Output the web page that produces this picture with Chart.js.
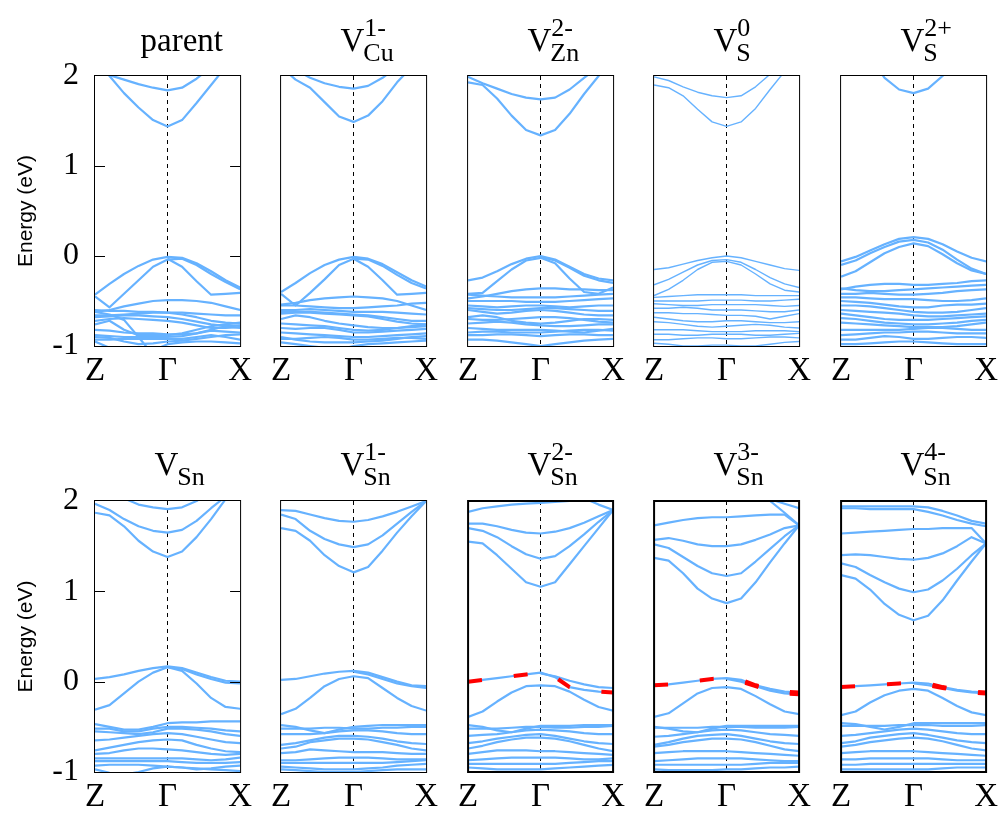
<!DOCTYPE html>
<html><head><meta charset="utf-8">
<script src="https://cdn.jsdelivr.net/npm/chart.js@4.4.1/dist/chart.umd.min.js"></script>
<style>
html,body{margin:0;padding:0;background:#fff}
body{width:1005px;height:814px;overflow:hidden;position:relative}
canvas{position:absolute}
.t{position:absolute;font-family:'Liberation Serif','Times New Roman',serif;line-height:1;white-space:nowrap;color:#000}
</style></head><body>
<script>
// ---------- data ----------
const kPoints = [0,0.1,0.2,0.3,0.4,0.5,0.6,0.7,0.8,0.9,1.0];
const kLabels = ['Z','\u0393','X'];
const eTickLabels = ['-1','0','1','2'];
const _ = null;

const parentBands = [
 [2.05,2.01,1.96,1.91,1.87,1.84,1.87,1.97,2.1,2.25,2.4],
 [2.2,2.0,1.81,1.65,1.51,1.44,1.51,1.7,1.9,2.1,2.3],
 [-0.43,-0.31,-0.2,-0.11,-0.04,-0.01,-0.02,-0.08,-0.17,-0.27,-0.35],
 [-0.45,-0.57,-0.42,-0.27,-0.12,-0.04,-0.03,-0.1,-0.2,-0.29,-0.37],
 [_,_,_,_,_,-0.03,-0.12,-0.28,-0.43,-0.42,-0.41],
 [-0.62,-0.6,-0.56,-0.53,-0.5,-0.49,-0.49,-0.5,-0.52,-0.56,-0.6],
 [-0.6,-0.61,-0.61,-0.62,-0.62,-0.63,-0.63,-0.64,-0.65,-0.66,-0.66],
 [-0.66,-0.66,-0.65,-0.64,-0.63,-0.63,-0.65,-0.68,-0.72,-0.74,-0.75],
 [-0.68,-0.67,-0.66,-0.66,-0.67,-0.68,-0.7,-0.73,-0.76,-0.78,-0.8],
 [-0.72,-0.7,-0.69,-0.7,-0.71,-0.72,-0.74,-0.77,-0.8,-0.8,-0.79],
 [-0.76,-0.72,-0.82,-0.88,-0.88,-0.88,-0.86,-0.82,-0.78,-0.76,-0.74],
 [-0.82,-0.83,-0.85,-0.86,-0.86,-0.87,-0.87,-0.86,-0.82,-0.78,-0.77],
 [-0.88,-0.89,-0.9,-0.9,-0.9,-0.9,-0.89,-0.86,-0.83,-0.84,-0.85],
 [-0.9,-0.91,-0.95,-0.98,-0.97,-0.95,-0.94,-0.92,-0.9,-0.88,-0.87],
 [-0.93,-0.93,-0.92,-0.92,-0.92,-0.92,-0.92,-0.9,-0.88,-0.9,-0.93],
 [-0.95,-1.02,-1.08,-1.1,-1.05,-0.98,-0.96,-0.95,-0.95,-0.96,-0.97],
 [-0.62,-0.65,-0.71,-0.9,-1.1,_,_,_,_,_,_]
];
const vCu1Bands = [
 [2.15,2.07,1.98,1.92,1.88,1.86,1.89,1.98,2.1,2.2,2.3],
 [2.1,1.96,1.87,1.71,1.55,1.49,1.56,1.72,1.93,2.1,2.3],
 [-0.4,-0.3,-0.19,-0.1,-0.04,-0.01,-0.03,-0.09,-0.18,-0.27,-0.34],
 [-0.42,-0.55,-0.41,-0.26,-0.1,-0.03,-0.04,-0.11,-0.21,-0.3,-0.36],
 [_,_,_,_,_,-0.03,-0.12,-0.27,-0.43,-0.42,-0.41],
 [-0.54,-0.52,-0.49,-0.47,-0.46,-0.45,-0.46,-0.47,-0.5,-0.55,-0.6],
 [-0.55,-0.55,-0.56,-0.57,-0.58,-0.58,-0.57,-0.56,-0.55,-0.53,-0.52],
 [-0.6,-0.6,-0.59,-0.6,-0.61,-0.62,-0.62,-0.62,-0.63,-0.64,-0.65],
 [-0.62,-0.62,-0.62,-0.63,-0.64,-0.65,-0.66,-0.68,-0.7,-0.72,-0.72],
 [-0.64,-0.63,-0.63,-0.64,-0.65,-0.66,-0.67,-0.7,-0.73,-0.75,-0.76],
 [-0.7,-0.66,-0.68,-0.72,-0.75,-0.77,-0.79,-0.8,-0.8,-0.79,-0.78],
 [-0.75,-0.76,-0.77,-0.78,-0.8,-0.82,-0.83,-0.82,-0.8,-0.78,-0.76],
 [-0.8,-0.81,-0.8,-0.8,-0.82,-0.85,-0.85,-0.84,-0.83,-0.82,-0.81],
 [-0.85,-0.86,-0.87,-0.88,-0.89,-0.9,-0.9,-0.89,-0.88,-0.87,-0.86],
 [-0.9,-0.93,-0.95,-0.96,-0.96,-0.96,-0.95,-0.94,-0.92,-0.9,-0.89],
 [-0.92,-0.92,-0.91,-0.9,-0.91,-0.93,-0.93,-0.92,-0.91,-0.91,-0.92],
 [-0.96,-0.98,-1.0,-1.02,-1.04,-1.0,-0.98,-0.97,-0.96,-0.95,-0.94]
];
const vZn2Bands = [
 [1.99,1.92,1.86,1.8,1.76,1.74,1.76,1.85,1.98,2.1,2.2],
 [1.93,1.9,1.75,1.56,1.4,1.34,1.4,1.58,1.8,2.0,2.2],
 [-0.27,-0.24,-0.17,-0.09,-0.03,0.0,-0.04,-0.12,-0.2,-0.25,-0.27],
 [_,_,_,_,_,-0.01,-0.05,-0.13,-0.22,-0.27,-0.3],
 [-0.42,-0.41,-0.28,-0.15,-0.05,-0.02,-0.08,-0.25,-0.4,-0.42,-0.35],
 [-0.47,-0.45,-0.42,-0.39,-0.37,-0.36,-0.36,-0.37,-0.37,-0.38,-0.38],
 [-0.43,-0.44,-0.45,-0.46,-0.46,-0.46,-0.46,-0.45,-0.44,-0.43,-0.42],
 [-0.5,-0.5,-0.5,-0.5,-0.51,-0.51,-0.51,-0.5,-0.49,-0.48,-0.47],
 [-0.55,-0.56,-0.57,-0.56,-0.55,-0.55,-0.56,-0.57,-0.56,-0.55,-0.55],
 [-0.58,-0.59,-0.6,-0.6,-0.59,-0.58,-0.58,-0.59,-0.6,-0.61,-0.61],
 [-0.6,-0.62,-0.64,-0.63,-0.61,-0.6,-0.61,-0.63,-0.65,-0.66,-0.66],
 [-0.68,-0.66,-0.68,-0.72,-0.74,-0.75,-0.74,-0.72,-0.7,-0.7,-0.71],
 [-0.7,-0.71,-0.71,-0.7,-0.69,-0.68,-0.68,-0.69,-0.71,-0.73,-0.74],
 [-0.75,-0.74,-0.73,-0.74,-0.76,-0.77,-0.78,-0.78,-0.77,-0.76,-0.76],
 [-0.8,-0.81,-0.82,-0.82,-0.82,-0.82,-0.83,-0.84,-0.85,-0.83,-0.81],
 [-0.85,-0.84,-0.84,-0.85,-0.85,-0.85,-0.84,-0.83,-0.82,-0.82,-0.83],
 [-0.88,-0.88,-0.87,-0.87,-0.88,-0.89,-0.88,-0.87,-0.87,-0.88,-0.88],
 [-0.93,-0.93,-0.94,-0.96,-0.98,-1.0,-0.98,-0.96,-0.94,-0.93,-0.92]
];
const vS0Bands = [
 [1.99,1.95,1.88,1.82,1.78,1.76,1.78,1.88,2.02,2.15,2.3],
 [1.9,1.87,1.78,1.63,1.49,1.44,1.49,1.64,1.85,2.05,2.2],
 [-0.15,-0.13,-0.09,-0.05,-0.02,0.0,-0.02,-0.06,-0.1,-0.14,-0.16],
 [-0.32,-0.26,-0.18,-0.1,-0.05,-0.04,-0.07,-0.15,-0.24,-0.31,-0.35],
 [-0.44,-0.37,-0.27,-0.15,-0.07,-0.06,-0.1,-0.2,-0.31,-0.38,-0.4],
 [-0.46,-0.45,-0.44,-0.43,-0.43,-0.43,-0.43,-0.44,-0.44,-0.44,-0.44],
 [-0.5,-0.5,-0.5,-0.5,-0.49,-0.49,-0.49,-0.5,-0.5,-0.49,-0.48],
 [-0.53,-0.54,-0.55,-0.55,-0.54,-0.54,-0.54,-0.54,-0.55,-0.56,-0.55],
 [-0.58,-0.58,-0.57,-0.58,-0.6,-0.6,-0.6,-0.61,-0.62,-0.62,-0.6],
 [-0.63,-0.63,-0.64,-0.64,-0.65,-0.66,-0.66,-0.67,-0.7,-0.67,-0.64],
 [-0.68,-0.7,-0.72,-0.73,-0.73,-0.72,-0.72,-0.73,-0.74,-0.74,-0.73],
 [-0.73,-0.74,-0.76,-0.78,-0.79,-0.78,-0.77,-0.76,-0.77,-0.79,-0.8],
 [-0.82,-0.82,-0.82,-0.83,-0.84,-0.84,-0.84,-0.83,-0.83,-0.83,-0.84],
 [-0.87,-0.87,-0.88,-0.88,-0.87,-0.87,-0.87,-0.88,-0.88,-0.87,-0.86],
 [-0.93,-0.93,-0.92,-0.91,-0.91,-0.92,-0.92,-0.91,-0.9,-0.9,-0.91],
 [-0.97,-0.98,-1.0,-1.0,-0.99,-0.99,-1.0,-1.0,-0.98,-0.96,-0.95]
];
const vS2Bands = [
 [2.7,2.5,2.2,1.98,1.85,1.81,1.86,2.0,2.2,2.4,2.6],
 [-0.06,-0.01,0.06,0.13,0.19,0.21,0.19,0.13,0.05,-0.02,-0.06],
 [-0.1,-0.05,0.03,0.1,0.16,0.18,0.15,0.07,-0.04,-0.14,-0.2],
 [-0.23,-0.17,-0.07,0.03,0.1,0.14,0.11,0.02,-0.08,-0.16,-0.2],
 [-0.37,-0.34,-0.32,-0.31,-0.31,-0.32,-0.32,-0.31,-0.3,-0.28,-0.27],
 [-0.36,-0.38,-0.39,-0.39,-0.38,-0.37,-0.36,-0.35,-0.34,-0.33,-0.32],
 [-0.42,-0.42,-0.41,-0.42,-0.43,-0.43,-0.42,-0.41,-0.39,-0.38,-0.37],
 [-0.46,-0.46,-0.47,-0.48,-0.48,-0.48,-0.49,-0.5,-0.5,-0.49,-0.47],
 [-0.5,-0.51,-0.52,-0.54,-0.56,-0.57,-0.57,-0.55,-0.54,-0.54,-0.53],
 [-0.55,-0.55,-0.56,-0.58,-0.6,-0.62,-0.63,-0.63,-0.62,-0.6,-0.58],
 [-0.6,-0.61,-0.62,-0.63,-0.64,-0.66,-0.67,-0.67,-0.66,-0.65,-0.64],
 [-0.64,-0.66,-0.68,-0.7,-0.71,-0.71,-0.71,-0.7,-0.69,-0.68,-0.67],
 [-0.69,-0.7,-0.72,-0.74,-0.75,-0.76,-0.76,-0.75,-0.74,-0.72,-0.71],
 [-0.74,-0.75,-0.76,-0.77,-0.78,-0.79,-0.79,-0.79,-0.78,-0.76,-0.74],
 [-0.82,-0.82,-0.82,-0.82,-0.82,-0.81,-0.8,-0.8,-0.81,-0.82,-0.82],
 [-0.88,-0.87,-0.86,-0.85,-0.85,-0.84,-0.84,-0.85,-0.86,-0.86,-0.86],
 [-0.93,-0.93,-0.91,-0.89,-0.9,-0.92,-0.92,-0.91,-0.9,-0.9,-0.91],
 [-0.98,-0.98,-0.97,-0.96,-0.95,-0.95,-0.96,-0.97,-0.98,-0.98,-0.98]
];
const vSnBands = [
 [2.3,2.15,2.03,1.96,1.93,1.91,1.93,2.0,2.1,2.2,2.3],
 [1.97,1.9,1.8,1.72,1.67,1.65,1.68,1.78,1.92,2.05,2.2],
 [1.87,1.84,1.72,1.56,1.44,1.38,1.44,1.6,1.8,2.02,2.2],
 [0.03,0.05,0.08,0.12,0.15,0.17,0.15,0.1,0.05,0.01,0.0],
 [_,_,_,_,_,0.16,0.14,0.08,0.03,-0.01,-0.02],
 [-0.31,-0.26,-0.13,0.0,0.1,0.16,0.12,-0.02,-0.18,-0.28,-0.3],
 [-0.47,-0.5,-0.53,-0.53,-0.5,-0.46,-0.45,-0.45,-0.44,-0.44,-0.44],
 [-0.52,-0.52,-0.55,-0.55,-0.52,-0.5,-0.5,-0.51,-0.52,-0.54,-0.55],
 [-0.55,-0.56,-0.57,-0.58,-0.56,-0.52,-0.52,-0.53,-0.55,-0.58,-0.6],
 [-0.65,-0.64,-0.62,-0.6,-0.58,-0.57,-0.58,-0.61,-0.64,-0.67,-0.68],
 [-0.76,-0.73,-0.7,-0.67,-0.65,-0.64,-0.65,-0.7,-0.74,-0.77,-0.78],
 [-0.8,-0.79,-0.76,-0.74,-0.74,-0.75,-0.76,-0.78,-0.8,-0.81,-0.8],
 [-0.85,-0.85,-0.85,-0.85,-0.85,-0.85,-0.85,-0.86,-0.87,-0.86,-0.84],
 [-0.88,-0.88,-0.88,-0.88,-0.88,-0.88,-0.89,-0.9,-0.9,-0.9,-0.89],
 [-0.97,-1.01,-1.03,-1.0,-0.96,-0.94,-0.95,-0.97,-0.96,-0.94,-0.93],
 [-0.93,-0.92,-0.92,-0.92,-0.93,-0.94,-0.95,-0.96,-0.97,-0.98,-0.99]
];
const vSn1Bands = [
 [1.9,1.89,1.85,1.81,1.78,1.77,1.79,1.83,1.88,1.94,2.0],
 [1.85,1.8,1.67,1.58,1.52,1.49,1.52,1.62,1.75,1.88,2.0],
 [1.7,1.67,1.56,1.4,1.28,1.21,1.27,1.45,1.65,1.83,2.0],
 [0.02,0.03,0.06,0.09,0.11,0.12,0.1,0.05,0.0,-0.04,-0.05],
 [_,_,_,_,_,0.11,0.08,0.03,-0.02,-0.05,-0.07],
 [-0.36,-0.3,-0.18,-0.05,0.03,0.06,0.04,-0.07,-0.18,-0.27,-0.32],
 [-0.48,-0.5,-0.54,-0.57,-0.53,-0.5,-0.49,-0.48,-0.48,-0.48,-0.48],
 [-0.52,-0.52,-0.52,-0.51,-0.51,-0.52,-0.52,-0.51,-0.51,-0.5,-0.5],
 [-0.58,-0.58,-0.58,-0.57,-0.55,-0.54,-0.54,-0.55,-0.57,-0.58,-0.58],
 [-0.7,-0.68,-0.65,-0.62,-0.6,-0.6,-0.61,-0.63,-0.66,-0.68,-0.69],
 [-0.74,-0.72,-0.67,-0.65,-0.63,-0.63,-0.64,-0.67,-0.7,-0.74,-0.76],
 [-0.79,-0.78,-0.75,-0.76,-0.77,-0.78,-0.78,-0.78,-0.79,-0.8,-0.8],
 [-0.87,-0.87,-0.86,-0.85,-0.84,-0.84,-0.84,-0.85,-0.86,-0.86,-0.86],
 [-0.9,-0.9,-0.9,-0.9,-0.9,-0.9,-0.9,-0.9,-0.89,-0.88,-0.87],
 [-0.94,-0.95,-0.96,-0.97,-0.97,-0.97,-0.96,-0.95,-0.93,-0.92,-0.91],
 [-0.97,-0.98,-0.99,-1.0,-1.0,-1.0,-0.99,-0.98,-0.97,-0.97,-0.97]
];
const vSn2Bands = [
 [1.88,1.92,1.94,1.96,1.97,1.98,1.99,2.0,2.02,2.05,2.1],
 [_,_,_,_,_,_,_,2.1,2.03,1.96,1.9],
 [1.75,1.75,1.72,1.68,1.65,1.64,1.66,1.7,1.76,1.83,1.9],
 [1.7,1.67,1.6,1.5,1.41,1.36,1.39,1.5,1.63,1.77,1.9],
 [1.55,1.53,1.4,1.25,1.1,1.05,1.1,1.3,1.5,1.7,1.9],
 [0.0,0.02,0.04,0.06,0.08,0.1,0.05,-0.06,-0.09,-0.11,-0.12],
 [_,_,_,_,_,0.09,0.06,0.01,-0.03,-0.06,-0.07],
 [-0.39,-0.33,-0.22,-0.12,-0.05,-0.04,-0.05,-0.11,-0.2,-0.28,-0.32],
 [-0.48,-0.5,-0.54,-0.56,-0.52,-0.49,-0.49,-0.49,-0.48,-0.48,-0.48],
 [-0.52,-0.52,-0.52,-0.51,-0.5,-0.5,-0.51,-0.51,-0.5,-0.5,-0.49],
 [-0.6,-0.59,-0.58,-0.56,-0.54,-0.53,-0.54,-0.55,-0.57,-0.58,-0.58],
 [-0.68,-0.66,-0.63,-0.61,-0.59,-0.58,-0.6,-0.63,-0.66,-0.68,-0.69],
 [-0.74,-0.71,-0.67,-0.64,-0.62,-0.62,-0.63,-0.66,-0.7,-0.74,-0.77],
 [-0.8,-0.78,-0.76,-0.76,-0.76,-0.77,-0.77,-0.78,-0.79,-0.8,-0.81],
 [-0.87,-0.86,-0.85,-0.84,-0.84,-0.84,-0.84,-0.85,-0.86,-0.86,-0.85],
 [-0.91,-0.91,-0.91,-0.91,-0.91,-0.91,-0.91,-0.9,-0.89,-0.88,-0.88],
 [-0.95,-0.96,-0.97,-0.97,-0.97,-0.97,-0.96,-0.95,-0.94,-0.93,-0.92]
];
const vSn3Bands = [
 [1.73,1.76,1.79,1.81,1.82,1.82,1.83,1.84,1.85,1.85,1.73],
 [_,_,_,_,_,_,_,2.05,2.0,1.87,1.73],
 [_,_,_,_,_,_,_,_,2.02,1.97,1.92],
 [1.57,1.59,1.56,1.52,1.5,1.5,1.52,1.57,1.63,1.7,1.73],
 [1.52,1.48,1.38,1.28,1.2,1.17,1.2,1.33,1.47,1.61,1.73],
 [1.37,1.34,1.2,1.03,0.92,0.87,0.92,1.1,1.32,1.53,1.73],
 [-0.04,-0.03,-0.01,0.01,0.03,0.04,0.02,-0.04,-0.08,-0.11,-0.12],
 [_,_,_,_,_,0.03,0.0,-0.05,-0.1,-0.13,-0.14],
 [-0.39,-0.35,-0.24,-0.13,-0.07,-0.06,-0.08,-0.16,-0.25,-0.33,-0.36],
 [-0.5,-0.52,-0.55,-0.56,-0.52,-0.49,-0.49,-0.49,-0.49,-0.49,-0.49],
 [-0.51,-0.51,-0.51,-0.51,-0.5,-0.5,-0.5,-0.51,-0.51,-0.51,-0.5],
 [-0.61,-0.6,-0.58,-0.56,-0.54,-0.53,-0.54,-0.56,-0.58,-0.59,-0.6],
 [-0.7,-0.67,-0.63,-0.6,-0.59,-0.58,-0.6,-0.63,-0.66,-0.68,-0.69],
 [-0.72,-0.7,-0.67,-0.65,-0.63,-0.63,-0.64,-0.67,-0.71,-0.75,-0.77],
 [-0.79,-0.78,-0.77,-0.77,-0.77,-0.77,-0.78,-0.79,-0.8,-0.81,-0.82],
 [-0.88,-0.87,-0.86,-0.85,-0.85,-0.85,-0.85,-0.86,-0.87,-0.88,-0.88],
 [-0.92,-0.92,-0.92,-0.92,-0.92,-0.92,-0.92,-0.91,-0.9,-0.9,-0.9],
 [-0.97,-0.98,-0.98,-0.98,-0.98,-0.97,-0.97,-0.96,-0.95,-0.95,-0.94]
];
const vSn4Bands = [
 [1.94,1.94,1.94,1.94,1.94,1.94,1.93,1.89,1.84,1.78,1.75],
 [1.92,1.92,1.91,1.91,1.91,1.91,1.88,1.84,1.79,1.75,1.72],
 [1.64,1.65,1.66,1.67,1.68,1.69,1.69,1.7,1.7,1.7,1.53],
 [1.4,1.41,1.4,1.38,1.36,1.35,1.37,1.42,1.5,1.6,1.53],
 [1.31,1.27,1.18,1.1,1.03,0.99,1.02,1.12,1.25,1.4,1.53],
 [1.18,1.14,1.02,0.86,0.74,0.68,0.73,0.9,1.12,1.33,1.53],
 [-0.06,-0.05,-0.04,-0.03,-0.02,-0.01,-0.02,-0.06,-0.09,-0.11,-0.12],
 [_,_,_,_,_,-0.02,-0.04,-0.07,-0.1,-0.12,-0.13],
 [-0.37,-0.33,-0.23,-0.15,-0.1,-0.08,-0.1,-0.18,-0.27,-0.34,-0.37],
 [-0.46,-0.47,-0.5,-0.53,-0.5,-0.46,-0.46,-0.46,-0.46,-0.46,-0.46],
 [-0.49,-0.49,-0.49,-0.49,-0.48,-0.48,-0.48,-0.49,-0.49,-0.49,-0.48],
 [-0.6,-0.59,-0.57,-0.55,-0.53,-0.52,-0.53,-0.55,-0.57,-0.58,-0.58],
 [-0.68,-0.66,-0.62,-0.6,-0.58,-0.57,-0.59,-0.62,-0.65,-0.67,-0.68],
 [-0.72,-0.7,-0.67,-0.65,-0.63,-0.62,-0.63,-0.66,-0.7,-0.74,-0.76],
 [-0.79,-0.78,-0.77,-0.77,-0.77,-0.77,-0.78,-0.79,-0.8,-0.81,-0.82],
 [-0.86,-0.86,-0.85,-0.85,-0.85,-0.85,-0.85,-0.86,-0.87,-0.87,-0.87],
 [-0.92,-0.92,-0.91,-0.91,-0.91,-0.91,-0.91,-0.91,-0.91,-0.91,-0.91],
 [-0.97,-0.97,-0.97,-0.97,-0.97,-0.97,-0.97,-0.96,-0.95,-0.95,-0.95]
];
// indices of bands highlighted in red
const vSn2Red = [5];
const vSn3Red = [6,7];
const vSn4Red = [6,7];

const titles = [
 {main:'parent'},
 {main:'V',sub:'Cu',sup:'1-'},
 {main:'V',sub:'Zn',sup:'2-'},
 {main:'V',sub:'S',sup:'0'},
 {main:'V',sub:'S',sup:'2+'},
 {main:'V',sub:'Sn'},
 {main:'V',sub:'Sn',sup:'1-'},
 {main:'V',sub:'Sn',sup:'2-'},
 {main:'V',sub:'Sn',sup:'3-'},
 {main:'V',sub:'Sn',sup:'4-'}
];

// ---------- layout ----------
const BLUE = 'rgb(102,178,255)';
const RED = 'rgb(255,0,0)';
const SERIF = "'Liberation Serif', serif";
const colLeft = [95,281,468,654,841];
const rowTop = [76,501];
const rowH = [270,271];
const PW = 147;

const panels = [
 {bands:parentBands, red:[], lw:2.2},
 {bands:vCu1Bands, red:[], lw:2.2},
 {bands:vZn2Bands, red:[], lw:2.2},
 {bands:vS0Bands, red:[], lw:1.4},
 {bands:vS2Bands, red:[], lw:2.2},
 {bands:vSnBands, red:[], lw:2.2},
 {bands:vSn1Bands, red:[], lw:2.2},
 {bands:vSn2Bands, red:vSn2Red, lw:2.2, bw:2},
 {bands:vSn3Bands, red:vSn3Red, lw:2.2, bw:2},
 {bands:vSn4Bands, red:vSn4Red, lw:2.2, bw:2}
];

const framePlugin = {
 id:'frame',
 beforeDatasetsDraw(chart){
  const {ctx, chartArea:a, scales:{x}} = chart;
  const gx = Math.round(x.getPixelForValue(0.5)) - 0.5;
  ctx.save();
  ctx.strokeStyle = '#000'; ctx.lineWidth = 1; ctx.setLineDash([4,4]);
  ctx.beginPath(); ctx.moveTo(gx, a.top); ctx.lineTo(gx, a.bottom); ctx.stroke();
  ctx.restore();
 },
 afterDatasetsDraw(chart, args, opts){
  const {ctx, chartArea:a, scales:{y}} = chart;
  ctx.save();
  ctx.strokeStyle = '#000';
  if (opts.ticks){
   ctx.lineWidth = 1;
   [0,1].forEach(v=>{
    const py = Math.round(y.getPixelForValue(v)) + 0.5;
    ctx.beginPath();
    ctx.moveTo(a.left, py); ctx.lineTo(a.left+10, py);
    ctx.moveTo(a.right-10, py); ctx.lineTo(a.right, py);
    ctx.stroke();
   });
  }
  const bw = opts.bw || 1;
  ctx.lineWidth = bw;
  const o = bw/2;
  ctx.strokeRect(a.left - 1 + o, a.top - 1 + o, a.right - a.left + 2 - bw, a.bottom - a.top + 2 - bw);
  ctx.restore();
 }
};

function addTitle(t, cx, baseline){
 const mk = (txt, size, left, base) => {
  const d = document.createElement('div');
  d.className = 't';
  d.textContent = txt;
  d.style.fontSize = size + 'px';
  d.style.left = left + 'px';
  d.style.top = (base - 0.8375*size) + 'px';
  document.body.appendChild(d);
  return d;
 };
 if (!t.sub){
  if (t.main === 'parent'){ mk(t.main, 33, cx - 28, baseline); return; }
 }
 const v = mk(t.main, 33, cx - 14, baseline);
 const vw = v.getBoundingClientRect().width;
 const sl = cx - 14 + vw - 1;
 if (t.sub) mk(t.sub, 26, sl, baseline + 10);
 if (t.sup) mk(t.sup, 26, sl + 1, baseline - 15);
}

panels.forEach((p, i) => {
 const col = i % 5, row = Math.floor(i / 5);
 const first = col === 0;
 const left = colLeft[col], top = rowTop[row], h = rowH[row];
 const axisW = first ? 95 : 0, padL = first ? 0 : 16, padR = 16, padT = 40, xAxisH = 50;
 const cv = document.createElement('canvas');
 const W = axisW + padL + PW + padR, H = padT + h + xAxisH;
 cv.width = W; cv.height = H;
 cv.style.width = W + 'px'; cv.style.height = H + 'px';
 cv.style.left = (left - axisW - padL) + 'px';
 cv.style.top = (top - padT) + 'px';
 document.body.appendChild(cv);

 const datasets = [];
 p.bands.forEach((b, bi) => {
  const pts = b.map((v, k) => ({x:kPoints[k], y:v}));
  datasets.push({data:pts, borderColor:BLUE, borderWidth:p.lw, order:2, clip:0});
  if (p.red.includes(bi)){
   const startK = b.findIndex(v => v !== null);
   const off = startK > 0 ? 27 : 0;
   datasets.push({data:pts, borderColor:RED, borderWidth:4, borderDash:[14,32], borderDashOffset:off, order:1, clip:0});
  }
 });

 new Chart(cv, {
  type:'line',
  data:{datasets},
  options:{
   responsive:false, animation:false, events:[], devicePixelRatio:1,
   layout:{padding:{left:padL, right:padR, top:padT, bottom:0}},
   plugins:{legend:{display:false}, tooltip:{enabled:false}, title:{display:false},
            frame:{ticks:first, bw:p.bw || 1}},
   elements:{point:{radius:0}, line:{tension:0, fill:false, borderJoinStyle:'round', borderCapStyle:'butt'}},
   spanGaps:false,
   scales:{
    x:{type:'linear', min:0, max:1,
       ticks:{stepSize:0.5, autoSkip:false, maxRotation:0, padding:6, color:'#000',
              font:{family:SERIF, size:33},
              callback:(v, k) => kLabels[k]},
       grid:{display:false, drawTicks:false}, border:{display:false},
       afterFit:s => { s.height = xAxisH; }},
    y:{type:'linear', display:first, min:-1, max:2,
       ticks:{stepSize:1, padding:16, color:'#000',
              font:{family:SERIF, size:32},
              callback:(v, k) => eTickLabels[k]},
       grid:{display:false, drawTicks:false}, border:{display:false},
       title:{display:true, text:'Energy (eV)', color:'#000',
              font:{family:"'Liberation Sans', sans-serif", size:21},
              padding:{top:14, bottom:0}},
       afterFit:s => { s.width = axisW; }}
   }
  },
  plugins:[framePlugin]
 });

 addTitle(titles[i], left + PW/2, row === 0 ? 52 : 476);
});
</script>
</body></html>
